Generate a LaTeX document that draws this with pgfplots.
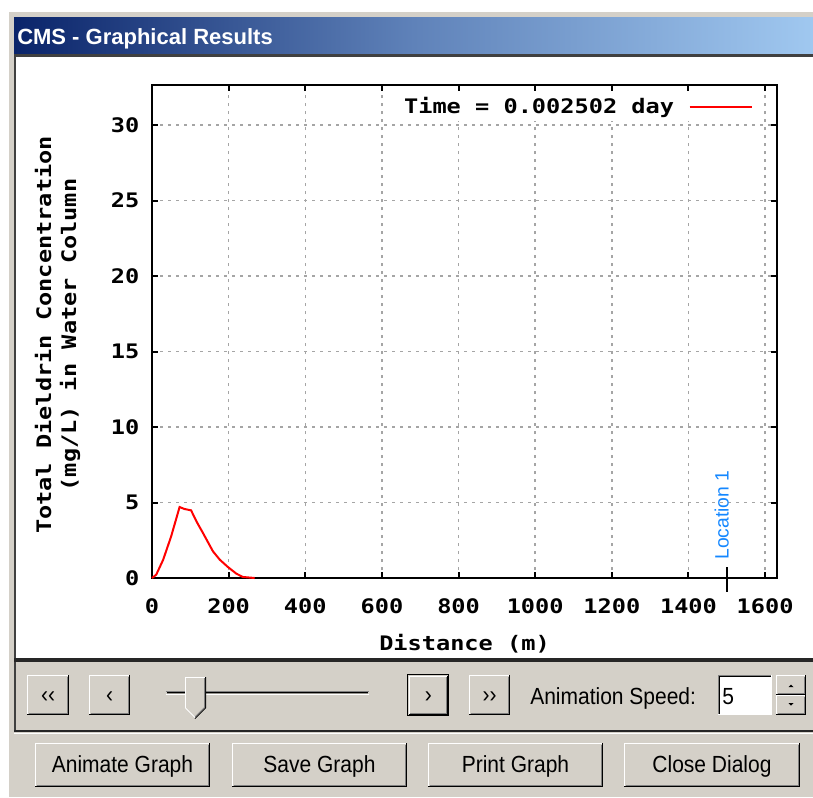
\documentclass[border=0pt]{standalone}
\usepackage{pgfplots}
\pgfplotsset{compat=1.18}
\usepackage{fontspec}
\setmainfont{Liberation Sans}
\newfontfamily\monof{DejaVu Sans Mono}[FakeStretch=1.18]
\newfontfamily\guif{Liberation Sans}[FakeStretch=0.9]
\newfontfamily\titlef{Liberation Sans}
\definecolor{winbg}{RGB}{212,208,200}
\definecolor{winshadow}{RGB}{128,128,128}
\definecolor{tbdark}{RGB}{10,36,106}
\definecolor{tbmid}{RGB}{95,130,185}
\definecolor{tblight}{RGB}{160,200,240}
\definecolor{gridgray}{RGB}{165,165,165}
\definecolor{locblue}{RGB}{20,135,255}
\newcommand{\chartfont}{\monof\bfseries\fontsize{15}{18.75}\selectfont}
\newcommand{\guifont}{\guif\fontsize{17.5}{21}\selectfont}
\newcommand{\locfont}{\fontsize{14.5}{17}\selectfont}
\tikzset{px/.style={line width=0.75pt}}
\newcommand{\raised}[4]{%
  \fill[winbg] (#1,#2) rectangle (#3,#4);
  \draw[white,px] (#1+0.5,#4-1) -- (#1+0.5,#2+0.5) -- (#3-1,#2+0.5);
  \draw[winshadow,px] (#1+1.5,#4-1.5) -- (#3-1.5,#4-1.5) -- (#3-1.5,#2+1.5);
  \draw[black,px] (#1,#4-0.5) -- (#3-0.5,#4-0.5) -- (#3-0.5,#2);
}
\newcommand{\winbutton}[5]{\raised{#1}{#2}{#3}{#4}%
  \node[font=\guifont, inner sep=0, anchor=base] at ({(#1+#3)/2},{(#2+#4)/2+7}) {#5};}
\begin{document}
\begin{tikzpicture}
\begin{scope}[x=0.75pt,y=-0.75pt]
  \useasboundingbox (0,0) rectangle (813,797);
  \fill[white] (0,0) rectangle (813,797);
  \fill[winbg] (9,12) rectangle (813,797);
  \shade[left color=tbdark, right color=tblight, middle color=tbmid] (14,17) rectangle (813,54);
  \node[font=\titlef\bfseries\fontsize{16.5}{20}\selectfont, text=white, anchor=base west, inner sep=0] at (17,44) {CMS - Graphical Results};
  \fill[black!75] (14,54) rectangle (813,57);
  \fill[white] (16,57) rectangle (813,658);
  \fill[black!75] (14,54) rectangle (16,732);
  \fill[black!85] (14,658) rectangle (813,662);
  \fill[black!85] (14,730) rectangle (813,732);
  \draw[white,px] (14,733) -- (813,733);
  % control row
  \winbutton{27}{675}{69}{715}{‹‹}
  \winbutton{89}{675}{130}{715}{‹}
  % slider track
  \draw[winshadow,px] (166,691.5) -- (369,691.5);
  \draw[black,px] (167,692.5) -- (368,692.5);
  \draw[winbg!70!black,px] (167,693.5) -- (368,693.5);
  \draw[white,px] (166,694.5) -- (369,694.5);
  % slider thumb
  \fill[winbg] (185,677) -- (205,677) -- (205,708) -- (195,718) -- (185,708) -- cycle;
  \draw[white,px] (185.5,708) -- (185.5,677.5) -- (205,677.5);
  \draw[black,px] (205.5,677) -- (205.5,708) -- (195,718.5);
  \draw[winshadow,px] (204.5,678) -- (204.5,707.5) -- (195,717);
  \draw[white,px] (185.5,708) -- (195,717.5);
  \draw[black,px] (407.5,674.5) rectangle (448.5,715.5);
  \winbutton{408.5}{675.5}{448}{715}{›}
  \winbutton{469}{675}{510}{715}{››}
  \node[font=\guifont, anchor=base west, inner sep=0] at (530,704) {Animation Speed:};
  % text box
  \fill[white] (718,675) rectangle (772,715);
  \draw[winshadow,px] (718.5,715) -- (718.5,675.5) -- (772,675.5);
  \draw[black,px] (719.5,714) -- (719.5,676.5) -- (771,676.5);
  \draw[white,px] (718,714.5) -- (771.5,714.5) -- (771.5,675);
  \node[font=\guifont, anchor=base west, inner sep=0] at (722,704) {5};
  % spin
  \raised{776}{675}{806}{695}
  \raised{776}{695}{806}{715}
  \fill[black] (788.5,687) -- (793.5,687) -- (791,684.5) -- cycle;
  \fill[black] (788.5,703) -- (793.5,703) -- (791,705.5) -- cycle;
  % bottom buttons
  \winbutton{35}{743}{210}{787}{Animate Graph}
  \winbutton{232}{743}{407}{787}{Save Graph}
  \winbutton{428}{743}{603}{787}{Print Graph}
  \winbutton{624}{743}{800}{787}{Close Dialog}
\end{scope}
\begin{axis}[
  at={(114pt,-433.5pt)}, anchor=south west,
  scale only axis, width=468.75pt, height=369.75pt,
  xmin=0, xmax=1631, ymin=0, ymax=32.65,
  xtick={0,200,400,600,800,1000,1200,1400,1600},
  ytick={0,5,10,15,20,25,30},
  grid=major,
  major grid style={gridgray, line width=1.1pt, dash pattern=on 2.5pt off 3.5pt},
  tick align=inside, major tick length=4.5pt,
  tick style={black, line width=1.5pt},
  axis line style={black, line width=1.5pt},
  ticklabel style={font=\chartfont},
  xticklabel style={yshift=-12pt},
  yticklabel style={xshift=-6pt},
  /pgf/number format/assume math mode=true,
  /pgf/number format/1000 sep={},
  xlabel={Distance (m)},
  xlabel style={font=\chartfont, at={(axis description cs:0.5,0)}, anchor=center, yshift=-49.5pt},
  ylabel={Total Dieldrin Concentration\\(mg/L) in Water Column},
  ylabel style={font=\chartfont, align=center, at={(axis description cs:-0.1512,0.493)}, anchor=center},
  clip=false,
  legend style={at={(axis description cs:1,1)}, anchor=north east, xshift=-12pt, yshift=-5.25pt,
    draw=none, fill=white, font=\chartfont, inner xsep=6pt, inner ysep=2pt},
  legend plot pos=right,
  legend image code/.code={\path (0pt,0pt); \draw[#1, line width=1.5pt] (9pt,0pt) -- (55.5pt,0pt);},
]
\addplot[red, line width=1.5pt] coordinates {
 (0,0) (11,0.22) (29,1.2) (50,2.76) (72,4.7) (85,4.57) (102,4.48) (116,3.75)
 (133,2.98) (159,1.77) (177,1.21) (198,0.73) (220,0.29) (237,0.07) (268,0)
};
\addlegendentry{Time = 0.002502 day}
\draw[black, line width=1.5pt] (axis cs:1500,0) ++(0pt,8.25pt) -- ++(0pt,-18.75pt);
\path (axis cs:1500,0) ++(-3.75pt,13.5pt) node[rotate=90, anchor=west, inner sep=0, text=locblue, font=\locfont] {Location 1};
\end{axis}
\end{tikzpicture}
\end{document}
